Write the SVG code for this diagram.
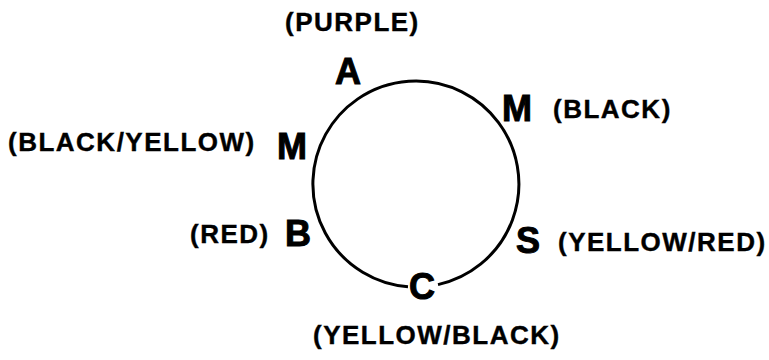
<svg xmlns="http://www.w3.org/2000/svg" width="769" height="360" viewBox="0 0 769 360">
<style>
.lbl{font-family:"Liberation Sans",Arial,sans-serif;font-weight:bold;font-size:26px;letter-spacing:1.5px;fill:#000;stroke:#000;stroke-width:0.4}
.ltr{font-family:"Liberation Sans",Arial,sans-serif;font-weight:bold;font-size:36px;fill:#000;stroke:#000;stroke-width:1}
.wire{fill:none;stroke:#000;stroke-width:3}
</style>
<rect width="769" height="360" fill="#fff"/>
<g id="connectors">
<path class="wire" d="M 408 286.7 A 103 103 0 1 1 438 284.6"/>
</g>
<g id="node-A"><text class="ltr" x="335" y="84">A</text><text class="lbl" x="285" y="31">(PURPLE)</text></g>
<g id="node-M-right"><text class="ltr" x="502" y="121">M</text><text class="lbl" x="553" y="118">(BLACK)</text></g>
<g id="node-M-left"><text class="ltr" x="277" y="159">M</text><text class="lbl" x="8" y="151">(BLACK/YELLOW)</text></g>
<g id="node-B"><text class="ltr" x="285" y="246">B</text><text class="lbl" x="190" y="243">(RED)</text></g>
<g id="node-S"><text class="ltr" x="516" y="253">S</text><text class="lbl" x="558" y="251">(YELLOW/RED)</text></g>
<g id="node-C"><text class="ltr" x="409" y="299">C</text><text class="lbl" x="313" y="344">(YELLOW/BLACK)</text></g>
</svg>
